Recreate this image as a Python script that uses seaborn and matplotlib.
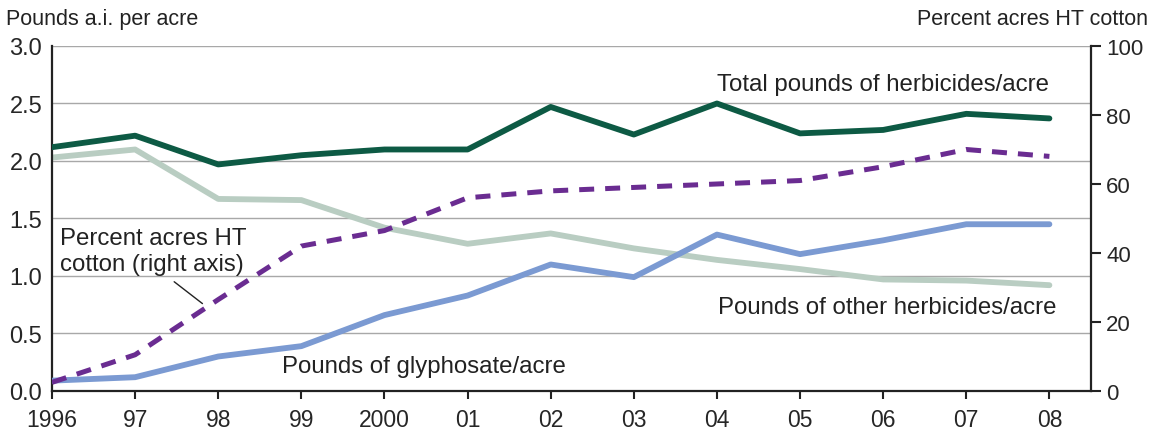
import numpy as np
import pandas as pd
import matplotlib
matplotlib.use("Agg")
import matplotlib.pyplot as plt
import seaborn as sns

# ── Data ──────────────────────────────────────────────────────────────
years = list(range(1996, 2009))
year_labels = ["1996", "97", "98", "99", "2000", "01", "02", "03", "04",
               "05", "06", "07", "08"]
total_lbs = [2.12, 2.22, 1.97, 2.05, 2.10, 2.10, 2.47, 2.23, 2.50, 2.24, 2.27, 2.41, 2.37]
other_lbs = [2.03, 2.10, 1.67, 1.66, 1.42, 1.28, 1.37, 1.24, 1.14, 1.06, 0.97, 0.96, 0.92]
glyphosate_lbs = [0.09, 0.12, 0.30, 0.39, 0.66, 0.83, 1.10, 0.99, 1.36, 1.19, 1.31, 1.45, 1.45]
ht_pct = [2.5, 10.5, 26.5, 42, 46.5, 56, 58, 59, 60, 61, 65, 70, 68]

left_ticks = [0.0, 0.5, 1.0, 1.5, 2.0, 2.5, 3.0]
right_ticks = [0, 20, 40, 60, 80, 100]

C_TOTAL = "#0d5a44"
C_OTHER = "#b9cdc2"
C_GLY = "#7b9ad2"
C_HT = "#6a2c91"

sns.set_style("white")
plt.rcParams["font.family"] = ["Liberation Sans", "DejaVu Sans"]

df = pd.DataFrame({"year": years, "total": total_lbs, "other": other_lbs,
                   "gly": glyphosate_lbs, "ht": ht_pct})

fig = plt.figure(figsize=(11.53, 4.31), dpi=100)
ax = fig.add_axes([0.0451, 0.0905, 0.9011, 0.8005])

# grid lines on the left scale
for v in left_ticks[1:]:
    ax.axhline(v, color="#a8a8a8", lw=1.0, zorder=0)

sns.lineplot(data=df, x="year", y="other", ax=ax, color=C_OTHER, lw=4.2, zorder=2)
sns.lineplot(data=df, x="year", y="gly", ax=ax, color=C_GLY, lw=4.2, zorder=3)
sns.lineplot(data=df, x="year", y="total", ax=ax, color=C_TOTAL, lw=4.2, zorder=4)

ax2 = ax.twinx()
sns.lineplot(data=df, x="year", y="ht", ax=ax2, color=C_HT, lw=3.6, zorder=5)
ax2.lines[0].set_dashes((3, 2.2))

ax.set_xlim(1996, 2008.5)
ax.set_ylim(0, 3.0)
ax2.set_ylim(0, 100)
ax.set_xticks(years)
ax.set_xticklabels(year_labels)
ax.set_yticks(left_ticks)
ax.set_yticklabels([f"{v:.1f}" for v in left_ticks])
ax2.set_yticks(right_ticks)
ax2.set_yticklabels([str(v) for v in right_ticks])
ax.set_xlabel("")
ax.set_ylabel("")
ax2.set_ylabel("")

ax.tick_params(axis="x", direction="out", length=6, width=1.5, color="#222222",
               labelsize=16.5, pad=6, bottom=True)
ax.tick_params(axis="y", length=0, labelsize=17, pad=7)
ax2.tick_params(axis="y", direction="out", length=7, width=1.5, color="#222222",
                labelsize=16, pad=4)

for a in (ax, ax2):
    a.spines["top"].set_visible(False)
    for s in ("left", "right", "bottom"):
        a.spines[s].set_color("#222222")
        a.spines[s].set_linewidth(1.6)
ax.spines["right"].set_visible(False)
ax2.spines["left"].set_visible(False)
ax2.spines["bottom"].set_visible(False)

fig.text(0.005, 0.98, "Pounds a.i. per acre", fontsize=15.5, va="top", ha="left",
         color="#222222")
fig.text(0.996, 0.98, "Percent acres HT cotton", fontsize=15.5, va="top", ha="right",
         color="#222222")

lbl = dict(fontsize=17.3, color="#222222")
ax.text(2006.0, 2.67, "Total pounds of herbicides/acre", ha="center", va="center", **lbl)
ax.text(2006.05, 0.73, "Pounds of other herbicides/acre", ha="center", va="center", **lbl)
ax.text(2000.48, 0.22, "Pounds of glyphosate/acre", ha="center", va="center", **lbl)
ax.text(1996.1, 1.22, "Percent acres HT\ncotton (right axis)", ha="left", va="center",
        linespacing=1.25, **lbl)
ax.plot([1997.47, 1997.81], [0.95, 0.76], color="#222222", lw=1.0)

fig.savefig("out.png", dpi=100)
